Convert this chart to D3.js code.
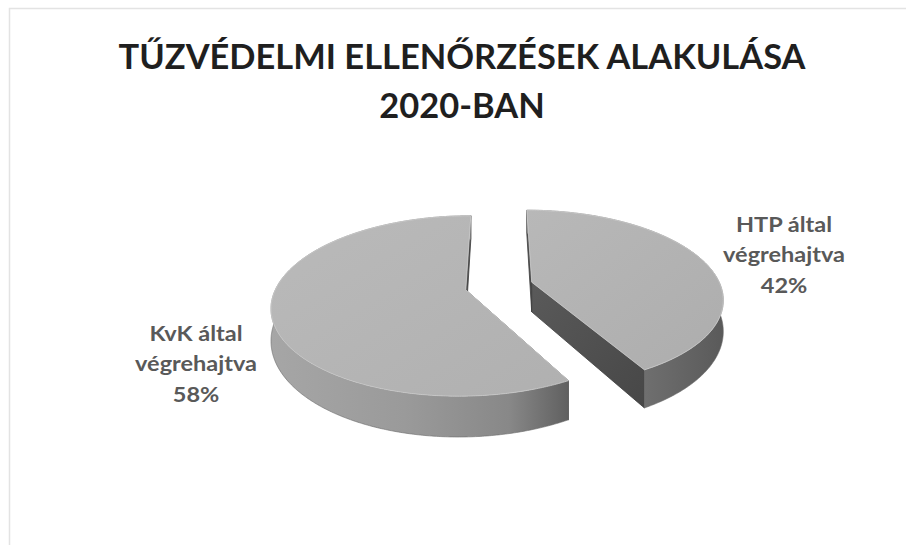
<!DOCTYPE html>
<html>
<head>
<meta charset="utf-8">
<script src="https://cdn.jsdelivr.net/npm/d3@7"></script>
<style>
  body { margin: 0; background: #fff; }
  svg { display: block; }
</style>
</head>
<body>
<svg id="chart"></svg>
<script>
// data
const titleLines = ['TŰZVÉDELMI ELLENŐRZÉSEK ALAKULÁSA', '2020-BAN'];
const categories = ['HTP által', 'KvK által'];
const values = [42, 58];
const subLabel = 'végrehajtva';

const W = 906, H = 545;

// 3D pie layout
const cx = 499, cy = 286;          // centre of the top face
const R = 189, RY = 86;            // radii of the top ellipse
const persp = 0.177;               // near side looks bigger
const depth = 30;                  // thickness
const explode = 0.18;              // offset of each slice (in radius units)

const svg = d3.select('#chart')
    .attr('width', W)
    .attr('height', H);

svg.append('rect')
    .attr('width', W).attr('height', H)
    .attr('fill', '#fff');

// faint frame of the chart area
svg.append('rect')
    .attr('x', 9.5).attr('y', 8.5)
    .attr('width', W + 20).attr('height', H + 20)
    .attr('fill', 'none')
    .attr('stroke', '#e3e3e3')
    .attr('stroke-width', 1.5);

const defs = svg.append('defs');

function grad(id, stops, x2, y2) {
    const g = defs.append('linearGradient')
        .attr('id', id)
        .attr('x1', 0).attr('y1', 0)
        .attr('x2', x2).attr('y2', y2);
    stops.forEach(s => g.append('stop').attr('offset', s[0]).attr('stop-color', s[1]));
}
grad('topL', [[0, '#bababa'], [1, '#b0b0b0']], 1, 1);
grad('topR', [[0, '#b8b8b8'], [1, '#adadad']], 1, 1);
grad('wallL', [[0, '#a6a6a6'], [0.45, '#9a9a9a'], [0.8, '#888'], [1, '#606060']], 1, 0);
grad('wallR', [[0, '#8a8a8a'], [0.5, '#747474'], [1, '#5a5a5a']], 1, 0);
grad('cut', [[0, '#5a5a5a'], [1, '#474747']], 1, 1);

// project a point of the disk (u right, v toward viewer, h 0 top / 1 bottom)
function proj(u, v, h) {
    const s = 1 / (1 - persp * v);
    return [cx + R * u * s, cy + RY * v * s + depth * h * Math.pow(s, 1.5)];
}

const pie = d3.pie().sort(null).startAngle(0).endAngle(2 * Math.PI);
const arcs = pie(values);

const line = d3.line();

function slicePoint(d, a, r, h) {
    const mid = (d.startAngle + d.endAngle) / 2;
    const ou = explode * Math.sin(mid), ov = -explode * Math.cos(mid);
    return proj(ou + r * Math.sin(a), ov - r * Math.cos(a), h);
}

function arcPoints(d, h, reverse) {
    const n = Math.max(8, Math.ceil((d.endAngle - d.startAngle) / 0.01));
    const pts = d3.range(n + 1).map(i => {
        const a = d.startAngle + (d.endAngle - d.startAngle) * i / n;
        return slicePoint(d, a, 1, h);
    });
    return reverse ? pts.reverse() : pts;
}

const fills = [
    { top: 'url(#topR)', wall: 'url(#wallR)' },
    { top: 'url(#topL)', wall: 'url(#wallL)' }
];

const g = svg.append('g');

arcs.forEach((d, i) => {
    const sg = g.append('g').attr('class', 'slice');

    // cut faces
    [d.startAngle, d.endAngle].forEach(a => {
        const quad = [
            slicePoint(d, a, 0, 0), slicePoint(d, a, 1, 0),
            slicePoint(d, a, 1, 1), slicePoint(d, a, 0, 1)
        ];
        sg.append('path')
            .attr('d', line(quad) + 'Z')
            .attr('fill', 'url(#cut)')
            .attr('stroke', '#3c3c3c')
            .attr('stroke-width', 0.8)
            .attr('stroke-linejoin', 'round');
    });

    // outer wall
    const wall = arcPoints(d, 0, false).concat(arcPoints(d, 1, true));
    sg.append('path')
        .attr('d', line(wall) + 'Z')
        .attr('fill', fills[i].wall)
        .attr('stroke', '#6a6a6a')
        .attr('stroke-width', 0.6);

    // top face
    const top = [slicePoint(d, 0, 0, 0)].concat(arcPoints(d, 0, false));
    sg.append('path')
        .attr('d', line(top) + 'Z')
        .attr('fill', fills[i].top)
        .attr('stroke', '#cfcfcf')
        .attr('stroke-width', 0.8)
        .attr('stroke-linejoin', 'round');
});

// title
const title = svg.append('g')
    .attr('font-family', 'Lato, "Open Sans", sans-serif')
    .attr('font-weight', 'bold')
    .attr('font-size', 35)
    .attr('fill', '#1f1f1f')
    .attr('text-anchor', 'middle');

const titleY = [69, 118];
const titleTexts = titleLines.map((t, i) => title.append('text')
    .attr('x', 0).attr('y', 0)
    .text(t));
const tw = titleTexts[0].node().getComputedTextLength();
const tk = 687 / tw;
titleTexts.forEach((t, i) => t.attr('transform', `translate(462,${titleY[i]}) scale(${tk},1)`));

// data labels
const labelPos = [
    { x: 784, y: 232 },
    { x: 196, y: 341 }
];
const lab = svg.append('g')
    .attr('font-family', 'Lato, "Open Sans", sans-serif')
    .attr('font-weight', 'bold')
    .attr('font-size', 21)
    .attr('fill', '#595959')
    .attr('text-anchor', 'middle');

const probe = lab.append('text').text(subLabel);
const lk = 122 / probe.node().getComputedTextLength();
probe.remove();

const total = d3.sum(values);
arcs.forEach((d, i) => {
    const lines = [categories[i], subLabel, Math.round(d.data / total * 100) + '%'];
    const t = lab.append('g')
        .attr('transform', `translate(${labelPos[i].x},${labelPos[i].y}) scale(${lk},1)`);
    lines.forEach((s, j) => t.append('text')
        .attr('y', j * 30.5)
        .text(s));
});
</script>
</body>
</html>
